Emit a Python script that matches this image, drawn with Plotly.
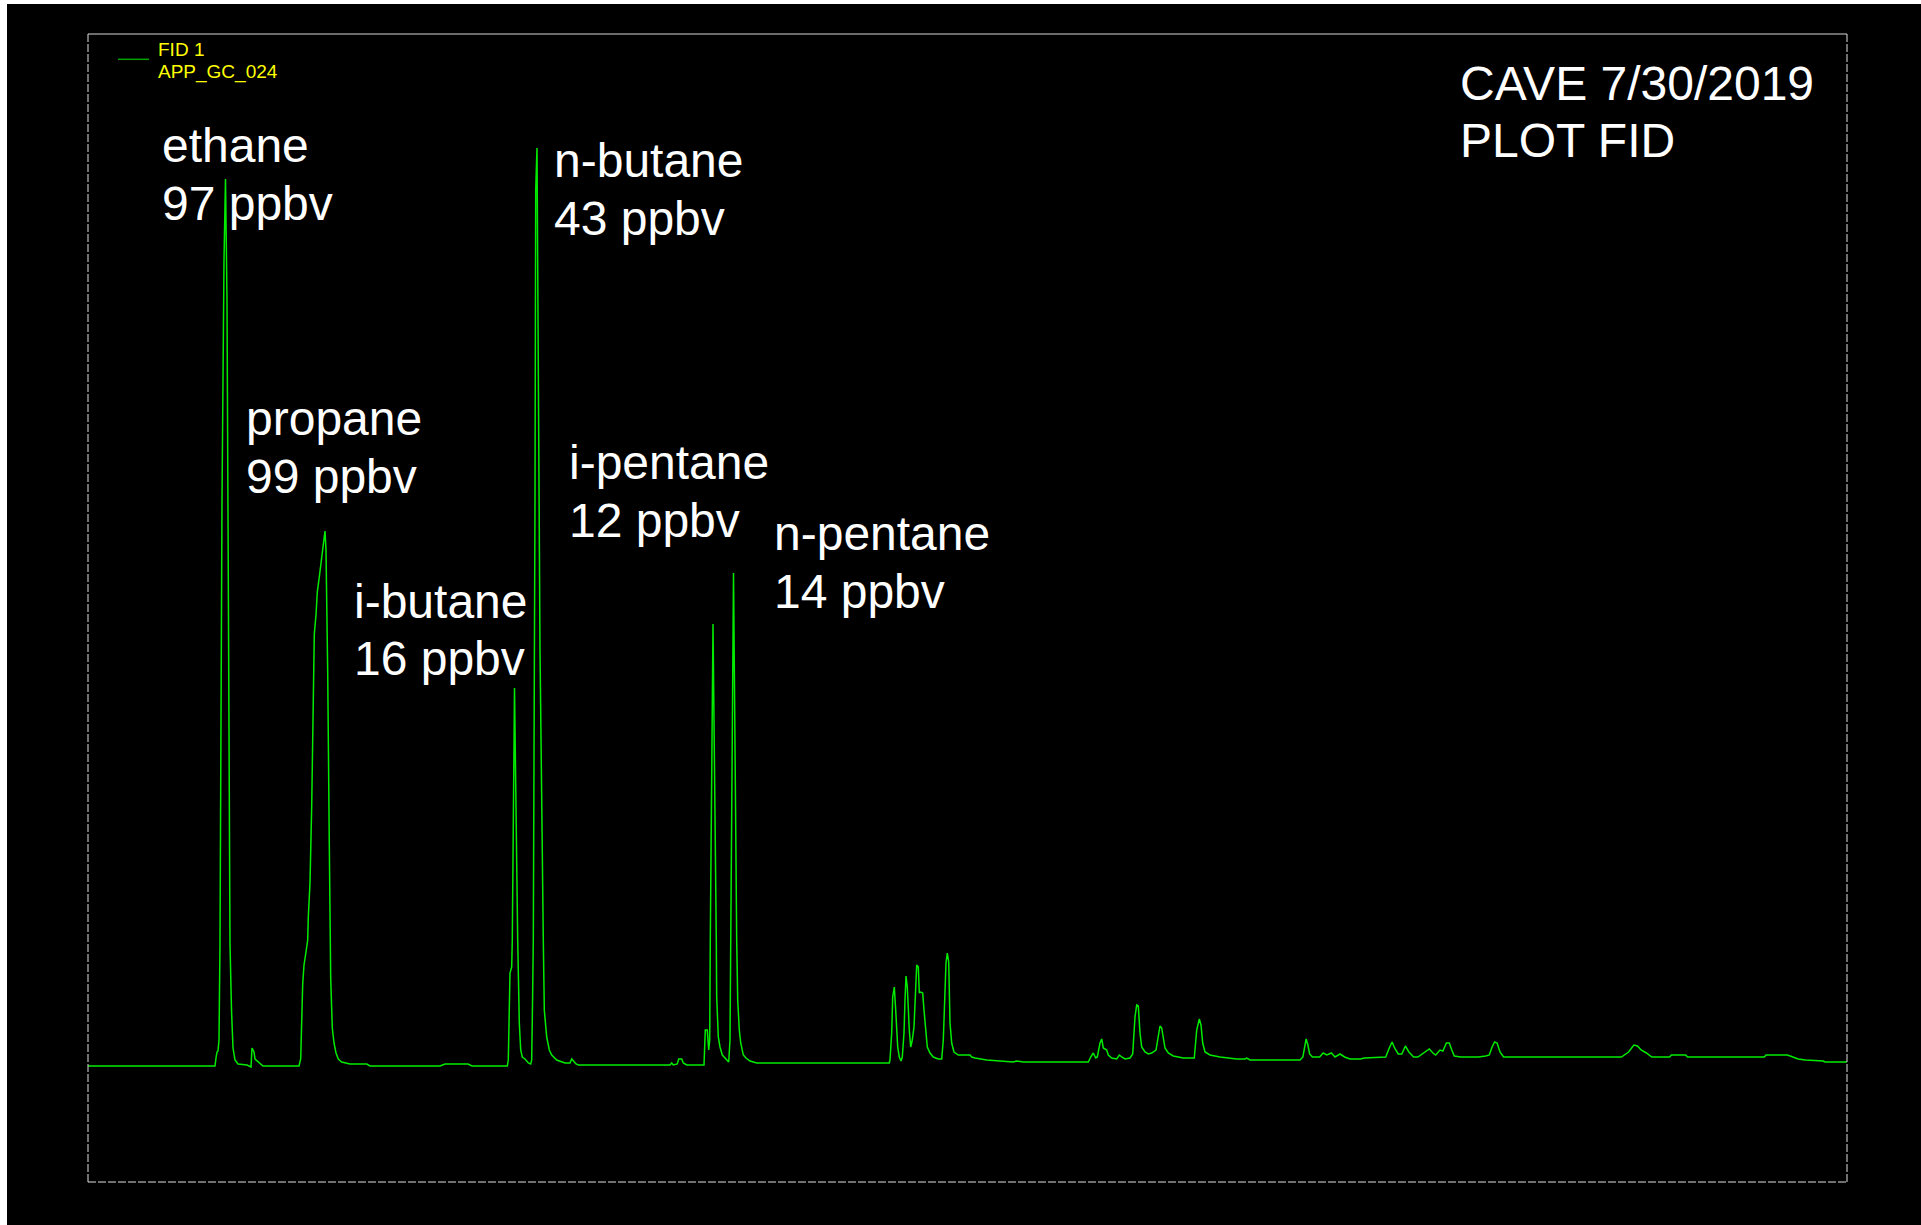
import plotly.graph_objects as go

# Retention time (min) and FID signal (arbitrary units)
time_min = [
    0.00, 1.27, 1.28, 1.29, 1.30, 1.31, 1.32, 1.34, 1.36, 1.375, 1.39, 1.40, 1.42, 1.435, 1.44, 1.45,
    1.47, 1.50, 1.59, 1.62, 1.63, 1.64, 1.66, 1.67, 1.70, 1.75, 2.11,
    2.127, 2.147, 2.16, 2.18, 2.197, 2.203, 2.22, 2.237, 2.247, 2.253, 2.263, 2.28, 2.293, 2.313,
    2.327, 2.343, 2.36, 2.37, 2.38, 2.397, 2.413, 2.427, 2.443, 2.46, 2.48, 2.503, 2.537, 2.62,
    2.787, 2.82, 3.52, 3.57, 3.80, 3.84, 4.193,
    4.203, 4.22, 4.237, 4.243, 4.265, 4.297, 4.313, 4.327, 4.343, 4.37, 4.403, 4.427,
    4.437, 4.447, 4.453, 4.47, 4.477, 4.49, 4.505, 4.513, 4.52, 4.553, 4.563, 4.587, 4.613, 4.637,
    4.687, 4.77, 4.82, 4.837, 4.853, 4.88, 4.903, 5.82, 5.837, 5.853, 5.893, 5.907, 5.937, 5.953,
    5.987, 6.16, 6.173, 6.193, 6.207, 6.217, 6.223, 6.25, 6.283, 6.287, 6.303, 6.32, 6.343, 6.37,
    6.407, 6.42, 6.427, 6.455, 6.487, 6.497, 6.513, 6.527, 6.553, 6.58, 6.62, 6.687, 6.82, 8.013,
    8.02, 8.037, 8.047, 8.063, 8.077, 8.087, 8.097, 8.113, 8.13, 8.143, 8.16, 8.17, 8.18, 8.193,
    8.203, 8.213, 8.227, 8.243, 8.26, 8.273, 8.287, 8.303, 8.313, 8.327, 8.347, 8.36, 8.377, 8.393,
    8.42, 8.453, 8.503, 8.537, 8.553, 8.57, 8.58, 8.593, 8.607, 8.62, 8.637, 8.66, 8.703, 8.82,
    8.837, 8.87, 8.987, 9.253, 9.287, 9.353, 10.003, 10.027, 10.053, 10.077, 10.093, 10.12, 10.137,
    10.153, 10.187, 10.203, 10.237, 10.287, 10.313, 10.337, 10.37, 10.42, 10.447, 10.47, 10.487,
    10.503, 10.52, 10.537, 10.57, 10.603, 10.637, 10.68, 10.703, 10.72, 10.737, 10.753, 10.77,
    10.803, 10.853, 10.953, 11.063, 11.087, 11.113, 11.13, 11.147, 11.17, 11.22, 11.32, 11.487,
    11.57, 11.587, 11.62, 12.12, 12.149, 12.163, 12.181, 12.199, 12.216, 12.245, 12.316, 12.352,
    12.388, 12.434, 12.47, 12.52, 12.566, 12.62, 12.727, 12.763, 12.924, 12.977, 13.013, 13.041,
    13.066, 13.102, 13.138, 13.174, 13.209, 13.256, 13.299, 13.352, 13.413, 13.449, 13.477, 13.52,
    13.549, 13.584, 13.613, 13.638, 13.663, 13.727, 13.906, 13.977, 14.013, 14.041, 14.066, 14.091,
    14.12, 14.156, 15.334, 15.406, 15.459, 15.495, 15.531, 15.584, 15.638, 15.816, 15.834, 15.977,
    15.995, 16.763, 16.781, 16.995, 17.049, 17.102, 17.174, 17.352, 17.37, 17.59,
]

signal = [
    0.0, 0.0, 0.8, 1.4, 1.5, 2.6, 12.2, 56.6, 80.6, 88.7, 76.6, 56.6, 12.2, 5.6, 3.3, 1.8,
    0.6, 0.2, 0.1, -0.1, -0.1, 1.8, 1.4, 0.7, 0.4, 0.0, 0.0,
    0.7, 8.2, 10.1, 11.4, 12.6, 14.9, 18.3, 26.0, 32.9, 37.1, 43.2, 45.1, 47.4, 48.9,
    50.1, 51.6, 53.0, 53.5, 51.6, 39.4, 22.2, 8.8, 3.8, 2.3, 1.3, 0.7, 0.4, 0.2,
    0.2, 0.0, 0.0, 0.2, 0.2, 0.0, 0.0,
    0.6, 9.3, 9.9, 12.6, 37.8, 12.6, 4.3, 1.6, 0.9, 0.7, 0.3, 0.2,
    0.6, 7.6, 12.6, 56.6, 87.6, 91.8, 66.6, 56.9, 41.6, 12.6, 5.6, 2.9, 1.6, 1.1,
    0.6, 0.3, 0.3, 0.7, 0.5, 0.2, 0.1, 0.1, 0.3, 0.1, 0.2, 0.7, 0.7, 0.3,
    0.1, 0.1, 3.6, 3.6, 1.6, 2.6, 12.6, 44.2, 12.6, 6.9, 2.9, 1.9, 1.1, 0.8,
    0.4, 2.6, 12.6, 49.3, 12.6, 6.6, 3.6, 2.3, 1.1, 0.8, 0.5, 0.3, 0.3, 0.3,
    0.6, 3.3, 6.9, 7.9, 5.6, 3.3, 1.9, 0.9, 0.5, 0.9, 3.3, 6.6, 9.0, 7.9,
    5.6, 3.6, 1.9, 2.6, 3.9, 6.6, 10.1, 9.9, 7.3, 7.4, 7.3, 5.6, 3.3, 1.9,
    1.3, 0.9, 0.7, 0.7, 2.6, 7.3, 10.3, 11.3, 10.4, 4.3, 2.3, 1.4, 1.1, 1.1,
    0.9, 0.8, 0.6, 0.4, 0.5, 0.4, 0.4, 0.9, 1.3, 0.8, 0.9, 2.3, 2.7,
    1.8, 1.6, 1.1, 0.8, 0.7, 1.1, 0.9, 0.7, 0.8, 1.2, 4.9, 6.1,
    6.0, 3.3, 1.9, 1.4, 1.2, 1.3, 1.6, 3.3, 4.0, 3.8, 2.6, 1.8,
    1.3, 1.0, 0.8, 0.8, 3.6, 4.7, 4.1, 2.3, 1.4, 1.1, 0.9, 0.7,
    0.7, 0.8, 0.6, 0.6, 0.9, 1.9, 2.7, 2.1, 1.2, 0.9, 0.9, 1.3,
    1.1, 1.3, 0.9, 1.2, 0.9, 0.7, 0.7, 0.8, 0.9, 0.9, 1.8, 2.4,
    1.8, 1.2, 1.2, 2.0, 1.4, 0.9, 0.9, 1.3, 1.7, 1.3, 1.1, 1.6,
    1.5, 2.3, 2.3, 1.6, 1.0, 0.9, 0.9, 1.0, 1.1, 1.9, 2.4, 2.3,
    1.4, 0.9, 0.9, 1.4, 2.1, 2.0, 1.6, 1.3, 0.9, 0.9, 1.1, 1.1,
    0.9, 0.9, 1.1, 1.1, 0.9, 0.7, 0.6, 0.5, 0.4, 0.4,
]

# Peak labels
compounds = ["ethane", "propane", "i-butane", "n-butane", "i-pentane", "n-pentane"]
ppbv = [97, 99, 16, 43, 12, 14]
title_lines = ["CAVE 7/30/2019", "PLOT FID"]
legend_lines = ["FID 1", "APP_GC_024"]

# Layout positions of the labels (axis units)
label_x = [0.72, 1.56, 2.64, 4.64, 4.786, 6.84]
label_y = [92.05, 64.75, 46.5, 90.55, 60.35, 53.25]
line_step = 5.76
X_RANGE = [0, 17.59]
Y_RANGE = [-11.6, 103.2]

FONT = "Liberation Sans, Arial, sans-serif"

fig = go.Figure()
fig.add_trace(go.Scatter(
    x=time_min, y=signal, mode="lines",
    line=dict(color="rgb(0,235,0)", width=1.5),
    name="FID 1", showlegend=False, hoverinfo="skip",
))

annotations = []
for name, conc, lx, ly in zip(compounds, ppbv, label_x, label_y):
    for i, txt in enumerate([name, f"{conc} ppbv"]):
        annotations.append(dict(
            x=lx, y=ly - i * line_step, xref="x", yref="y", text=txt,
            showarrow=False, xanchor="left", yanchor="middle",
            font=dict(family=FONT, size=48, color="white"),
        ))
for i, txt in enumerate(title_lines):
    annotations.append(dict(
        x=13.70, y=98.3 - i * line_step, xref="x", yref="y", text=txt,
        showarrow=False, xanchor="left", yanchor="middle",
        font=dict(family=FONT, size=48, color="white"),
    ))
for i, txt in enumerate(legend_lines):
    annotations.append(dict(
        x=0.68, y=101.67 - i * 2.24, xref="x", yref="y", text=txt,
        showarrow=False, xanchor="left", yanchor="middle",
        font=dict(family=FONT, size=19, color="#ffff00"),
    ))

W, H = 1921, 1225
ml, mr, mt, mb = 88, 74, 34, 43
pw, ph = W - ml - mr, H - mt - mb

shapes = [
    # legend swatch
    dict(type="line", xref="x", yref="y", x0=0.30, x1=0.61, y0=100.67, y1=100.67,
         line=dict(color="#00a000", width=1.5)),
    # frame
    dict(type="line", xref="paper", yref="paper", x0=0, x1=1, y0=1, y1=1,
         line=dict(color="#d8d8d8", width=1)),
    dict(type="line", xref="paper", yref="paper", x0=0, x1=1, y0=0, y1=0,
         line=dict(color="#e0e0e0", width=1, dash="8px,2px")),
    dict(type="line", xref="paper", yref="paper", x0=0, x1=0, y0=0, y1=1,
         line=dict(color="#e0e0e0", width=1, dash="8px,2px")),
    dict(type="line", xref="paper", yref="paper", x0=1, x1=1, y0=0, y1=1,
         line=dict(color="#e0e0e0", width=1, dash="8px,2px")),
    # white strips at top and left edge of the image
    dict(type="rect", xref="paper", yref="paper", x0=-ml / pw, x1=1 + mr / pw,
         y0=1 + (mt - 4) / ph, y1=1 + mt / ph, fillcolor="white", line=dict(width=0)),
    dict(type="rect", xref="paper", yref="paper", x0=-ml / pw, x1=-(ml - 7) / pw,
         y0=-mb / ph, y1=1 + mt / ph, fillcolor="white", line=dict(width=0)),
]

fig.update_layout(
    width=W, height=H, autosize=False,
    margin=dict(l=ml, r=mr, t=mt, b=mb, pad=0),
    paper_bgcolor="black", plot_bgcolor="black",
    xaxis=dict(range=X_RANGE, visible=False, showgrid=False, zeroline=False, fixedrange=True),
    yaxis=dict(range=Y_RANGE, visible=False, showgrid=False, zeroline=False, fixedrange=True),
    annotations=annotations, shapes=shapes, showlegend=False,
    font=dict(family=FONT),
)

fig.write_html("out.html", config={"displayModeBar": False})
